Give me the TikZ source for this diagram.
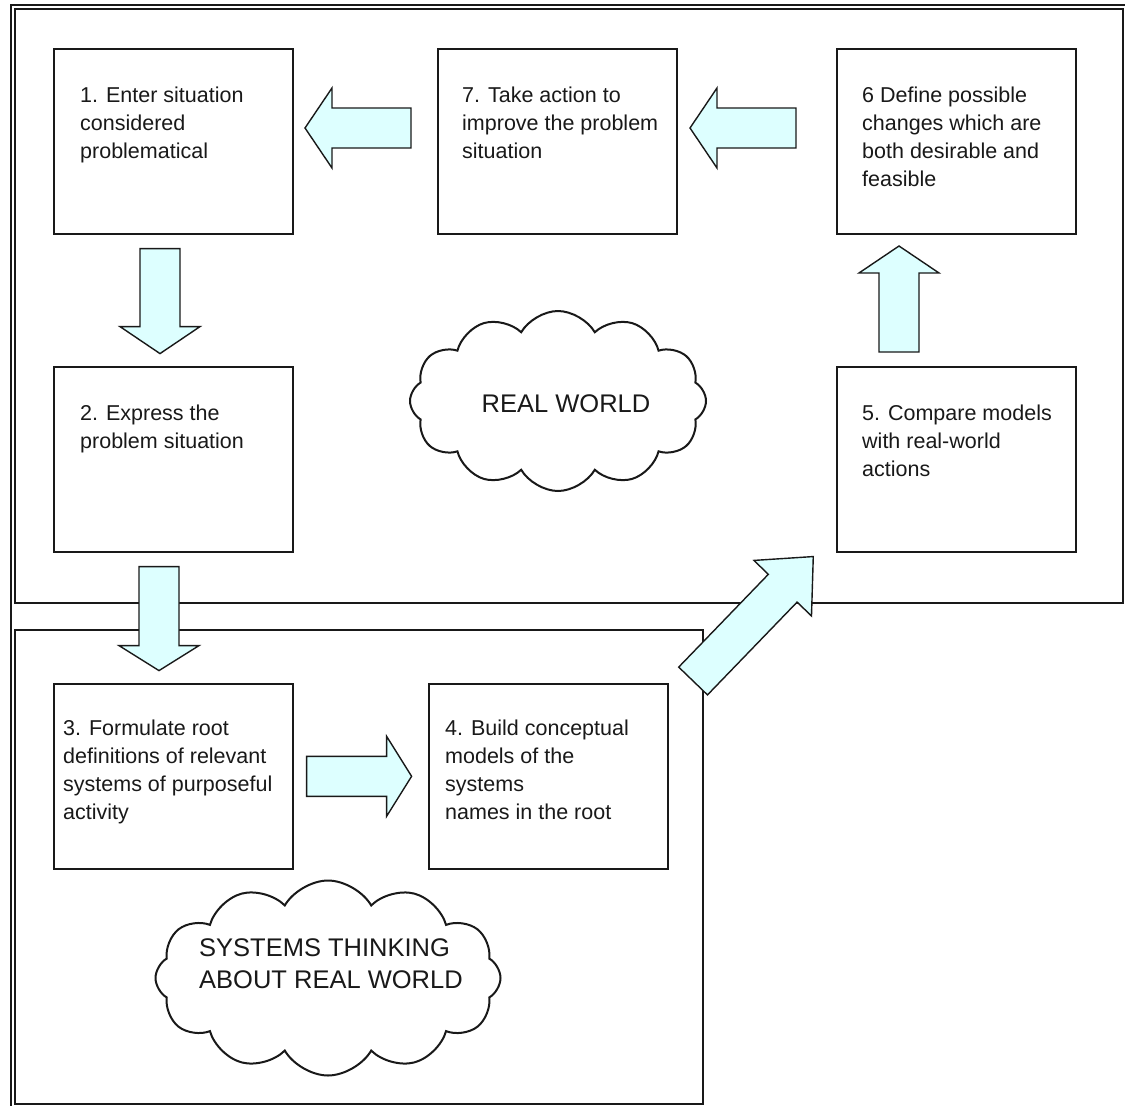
\documentclass[tikz,border=0pt]{standalone}
\usepackage{fontspec}
\setmainfont{Liberation Sans}
\usetikzlibrary{calc,shapes.symbols}

\definecolor{arrowcyan}{RGB}{221,255,255}
\definecolor{ink}{RGB}{25,25,25}

\tikzset{
  stage/.style={draw=ink, line width=1.6pt, minimum width=239pt, minimum height=185pt,
    anchor=north west, inner sep=0pt},
  stagetext/.style={anchor=north west, align=left, inner sep=0pt,
    font=\fontsize{21.5}{28}\selectfont, text=ink},
  blockfill/.style={draw=ink, line width=1.4pt, fill=arrowcyan, line join=miter},
  frame/.style={draw=ink, line width=2pt},
  thought/.style={cloud, draw=ink, line width=2pt, cloud puffs=12, cloud puff arc=120,
    aspect=1.6, inner sep=0pt},
  cloudtext/.style={align=left, inner sep=0pt, font=\fontsize{25.5}{32}\selectfont, text=ink}
}

% fat block arrow: tail centre, direction, shaft length, head length
\newcommand\blockarrow[4]{%
  \begin{scope}[shift={#1}, rotate=#2]
    \filldraw[blockfill] (0,-20) -- (#3,-20) -- (#3,-40) -- ({#3+#4},0)
      -- (#3,40) -- (#3,20) -- (0,20) -- cycle;
  \end{scope}}

\begin{document}
\begin{tikzpicture}[x=1pt, y=-1pt]
  \useasboundingbox (0,0) rectangle (1125,1106);
  \fill[white] (0,0) rectangle (1125,1106);

  % outer rule and the two regions
  \draw[frame] (11,1106) -- (11,5) -- (1125,5);
  \draw[frame] (15,9) rectangle (1123,603);
  \draw[frame] (15,630) rectangle (703,1104);

  % stages
  \node[stage] (b1) at (53,48)  {};
  \node[stage] (b7) at (437,48) {};
  \node[stage] (b6) at (836,48) {};
  \node[stage] (b2) at (53,366) {};
  \node[stage] (b5) at (836,366) {};
  \node[stage] (b3) at (53,683) {};
  \node[stage] (b4) at (428,683) {};

  \node[stagetext] (t1) at ($(b1.north west)+(27,38.6)$)
    {1. Enter situation\\considered\\problematical};
  \node[stagetext] (t7) at ($(b7.north west)+(25,38.6)$)
    {7. Take action to\\improve the problem\\situation};
  \node[stagetext] (t6) at ($(b6.north west)+(26,38.6)$)
    {6 Define possible\\changes which are\\both desirable and\\feasible};
  \node[stagetext] (t2) at ($(b2.north west)+(27,38.6)$)
    {2. Express the\\problem situation};
  \node[stagetext] (t5) at ($(b5.north west)+(26,38.6)$)
    {5. Compare models\\with real-world\\actions};
  \node[stagetext] (t3) at ($(b3.north west)+(10,36.6)$)
    {3. Formulate root\\definitions of relevant\\systems of purposeful\\activity};
  \node[stagetext] (t4) at ($(b4.north west)+(17,36.6)$)
    {4. Build conceptual\\models of the\\systems\\names in the root};

  % clouds
  \node[thought, minimum width=296pt, minimum height=180pt] (rw) at (558,401) {};
  \node[cloudtext] (rwt) at (566,404) {REAL WORLD};
  \node[thought, minimum width=345pt, minimum height=195pt] (st) at (328,978) {};
  \node[cloudtext, anchor=west] (stt) at (199,964) {SYSTEMS THINKING\\ABOUT REAL WORLD};

  % flow between stages
  \blockarrow{($(b7.north west)+(-26,80)$)}{180}{79}{27}
  \blockarrow{($(b6.north west)+(-40,80)$)}{180}{79}{27}
  \blockarrow{($(b1.south west)+(107,14)$)}{270}{78}{27}
  \blockarrow{($(b2.south west)+(106,14)$)}{270}{79}{25}
  \blockarrow{($(b3.east)+(13,0)$)}{0}{80}{25}
  \blockarrow{($(b4.north east)+(24.5,-2)$)}{46}{129}{44}
  \blockarrow{($(b5.north west)+(63,-14)$)}{90}{79}{27}
\end{tikzpicture}
\end{document}
